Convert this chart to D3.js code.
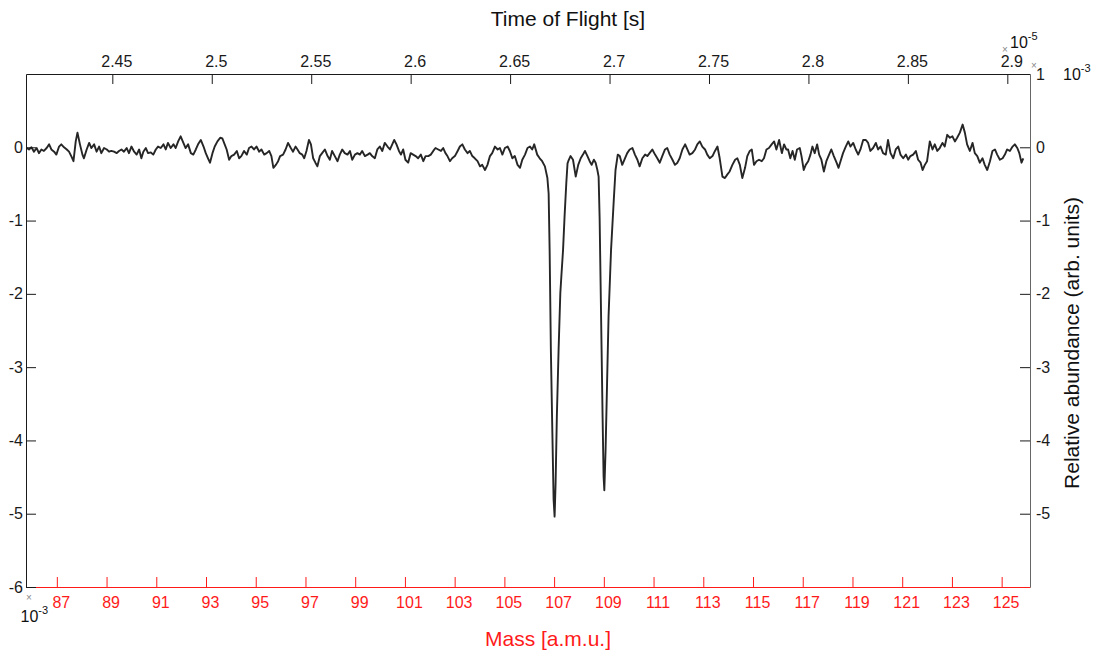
<!DOCTYPE html>
<html>
<head>
<meta charset="utf-8">
<script src="https://cdnjs.cloudflare.com/ajax/libs/d3/7.8.5/d3.min.js"></script>
<style>
  body { margin: 0; background: #fff; }
  svg text { font-family: "Liberation Sans", Arial, Helvetica, sans-serif; }
</style>
</head>
<body>
<svg></svg>
<script>
// размеры svg
const width = 1093;
const height = 652;

// масса [a.m.u.]
const mass = [
  85.79, 85.88, 85.98, 86.08, 86.19, 86.28, 86.38, 86.48, 86.59, 86.69,
  86.78, 86.89, 86.98, 87.09, 87.18, 87.29, 87.40, 87.49, 87.58, 87.67,
  87.76, 87.83, 87.93, 88.03, 88.09, 88.20, 88.30, 88.39, 88.50, 88.60,
  88.70, 88.79, 88.90, 89.01, 89.10, 89.19, 89.30, 89.41, 89.50, 89.60,
  89.70, 89.81, 89.90, 90.00, 90.11, 90.21, 90.31, 90.40, 90.48, 90.58,
  90.67, 90.78, 90.88, 90.98, 91.07, 91.18, 91.29, 91.38, 91.47, 91.58,
  91.69, 91.78, 91.88, 91.98, 92.09, 92.18, 92.28, 92.39, 92.49, 92.59,
  92.68, 92.79, 92.90, 92.99, 93.08, 93.16, 93.26, 93.35, 93.46, 93.57,
  93.66, 93.75, 93.83, 93.93, 94.02, 94.13, 94.24, 94.33, 94.42, 94.53,
  94.64, 94.73, 94.83, 94.93, 95.03, 95.14, 95.23, 95.34, 95.44, 95.54,
  95.63, 95.71, 95.81, 95.90, 95.98, 96.10, 96.20, 96.30, 96.41, 96.50,
  96.60, 96.68, 96.77, 96.87, 96.95, 97.04, 97.14, 97.22, 97.31, 97.40,
  97.48, 97.58, 97.67, 97.78, 97.89, 97.98, 98.07, 98.18, 98.29, 98.38,
  98.48, 98.58, 98.69, 98.79, 98.88, 98.99, 99.09, 99.19, 99.28, 99.39,
  99.50, 99.59, 99.68, 99.79, 99.89, 99.99, 100.09, 100.19, 100.30, 100.40,
  100.49, 100.57, 100.66, 100.76, 100.84, 100.93, 101.02, 101.13, 101.23, 101.33,
  101.43, 101.53, 101.64, 101.74, 101.83, 101.94, 102.04, 102.14, 102.23, 102.34,
  102.45, 102.54, 102.63, 102.71, 102.81, 102.90, 103.01, 103.12, 103.21, 103.31,
  103.41, 103.52, 103.61, 103.71, 103.81, 103.92, 104.02, 104.11, 104.22, 104.32,
  104.42, 104.51, 104.62, 104.73, 104.82, 104.92, 105.02, 105.13, 105.22, 105.32,
  105.42, 105.53, 105.63, 105.72, 105.83, 105.93, 106.03, 106.12, 106.20, 106.32,
  106.42, 106.52, 106.63, 106.73, 106.78, 106.82, 106.87, 106.93, 106.98, 107.02,
  107.06, 107.11, 107.18, 107.25, 107.29, 107.36, 107.42, 107.49, 107.54, 107.57,
  107.66, 107.76, 107.87, 107.97, 108.07, 108.16, 108.24, 108.34, 108.43, 108.51,
  108.60, 108.67, 108.74, 108.79, 108.83, 108.87, 108.91, 108.95, 108.99, 109.02,
  109.07, 109.13, 109.19, 109.29, 109.40, 109.47, 109.56, 109.64, 109.74, 109.85,
  109.94, 110.04, 110.15, 110.25, 110.35, 110.44, 110.55, 110.66, 110.75, 110.84,
  110.95, 111.06, 111.15, 111.25, 111.35, 111.46, 111.55, 111.65, 111.76, 111.86,
  111.96, 112.05, 112.16, 112.27, 112.36, 112.45, 112.56, 112.67, 112.76, 112.86,
  112.96, 113.07, 113.16, 113.26, 113.37, 113.47, 113.57, 113.66, 113.77, 113.87,
  113.97, 114.06, 114.17, 114.28, 114.37, 114.47, 114.57, 114.68, 114.77, 114.87,
  114.95, 115.04, 115.14, 115.24, 115.35, 115.44, 115.54, 115.64, 115.75, 115.85,
  115.94, 116.05, 116.16, 116.25, 116.34, 116.41, 116.50, 116.59, 116.68, 116.77,
  116.88, 116.95, 117.04, 117.12, 117.22, 117.31, 117.39, 117.48, 117.58, 117.66,
  117.75, 117.85, 117.95, 118.06, 118.15, 118.25, 118.36, 118.44, 118.52, 118.62,
  118.73, 118.83, 118.92, 119.03, 119.13, 119.23, 119.32, 119.43, 119.54, 119.63,
  119.72, 119.83, 119.94, 120.03, 120.13, 120.23, 120.34, 120.43, 120.53, 120.64,
  120.74, 120.84, 120.93, 121.04, 121.15, 121.24, 121.33, 121.44, 121.55, 121.64,
  121.74, 121.82, 121.91, 122.00, 122.11, 122.22, 122.31, 122.41, 122.51, 122.62,
  122.71, 122.81, 122.92, 123.02, 123.12, 123.21, 123.32, 123.43, 123.52, 123.61,
  123.72, 123.83, 123.92, 124.02, 124.12, 124.23, 124.32, 124.42, 124.53, 124.63,
  124.73, 124.82, 124.93, 125.04, 125.13, 125.22, 125.33, 125.44, 125.53, 125.63,
  125.71, 125.80, 125.87
];

// относительная распространённость, в единицах 10^-3
const abundance = [
  -0.01, -0.03, 0.00, -0.06, -0.01, -0.08, -0.03, -0.05, -0.01, 0.04,
  -0.03, -0.06, -0.10, 0.01, 0.04, 0.00, -0.03, -0.06, -0.12, -0.19,
  0.08, 0.20, 0.04, -0.10, -0.15, -0.03, 0.06, -0.01, 0.04, -0.06,
  0.01, -0.08, -0.01, -0.03, -0.06, -0.05, -0.06, -0.08, -0.05, -0.03,
  -0.06, -0.01, -0.08, 0.01, -0.06, -0.10, -0.03, -0.15, -0.06, -0.01,
  -0.08, -0.07, -0.10, -0.03, 0.01, -0.01, 0.04, -0.03, 0.06, -0.01,
  0.04, -0.01, 0.08, 0.15, 0.06, -0.01, 0.04, -0.08, -0.10, -0.03,
  0.04, 0.10, 0.01, -0.08, -0.15, -0.21, -0.08, 0.01, 0.08, 0.13,
  0.12, 0.04, -0.03, -0.17, -0.12, -0.10, -0.05, -0.15, -0.12, -0.05,
  -0.10, -0.01, 0.01, -0.03, 0.01, -0.06, -0.03, -0.10, -0.08, -0.05,
  -0.12, -0.28, -0.24, -0.19, -0.12, -0.10, -0.03, 0.06, -0.01, -0.06,
  0.01, -0.03, -0.08, -0.10, -0.15, -0.05, 0.10, 0.04, -0.15, -0.21,
  -0.26, -0.12, -0.08, -0.03, -0.12, -0.17, -0.05, -0.12, -0.19, -0.10,
  -0.03, -0.08, -0.10, -0.05, -0.17, -0.10, -0.08, -0.10, -0.05, -0.12,
  -0.10, -0.08, -0.12, -0.15, -0.03, 0.01, -0.05, 0.06, 0.01, -0.03,
  0.04, 0.10, 0.04, -0.05, -0.10, -0.03, -0.17, -0.21, -0.08, -0.10,
  -0.12, -0.15, -0.10, -0.19, -0.12, -0.12, -0.10, -0.05, -0.01, -0.03,
  -0.05, -0.01, -0.08, -0.12, -0.19, -0.15, -0.12, -0.05, 0.01, 0.04,
  -0.03, -0.08, -0.05, -0.12, -0.15, -0.19, -0.26, -0.24, -0.31, -0.24,
  -0.12, -0.08, 0.01, -0.03, -0.01, -0.10, -0.01, 0.01, -0.05, -0.15,
  -0.12, -0.24, -0.28, -0.17, -0.10, -0.01, 0.01, -0.03, 0.04, -0.10,
  -0.15, -0.19, -0.26, -0.42, -0.63, -1.40, -2.77, -3.90, -4.81, -5.04,
  -4.58, -3.68, -2.77, -1.99, -1.77, -1.40, -0.95, -0.49, -0.22, -0.19,
  -0.12, -0.17, -0.40, -0.24, -0.15, -0.10, -0.05, -0.12, -0.19, -0.24,
  -0.17, -0.21, -0.31, -0.40, -0.95, -1.86, -2.77, -3.68, -4.49, -4.68,
  -4.13, -3.22, -2.31, -1.40, -0.72, -0.31, -0.10, -0.12, -0.24, -0.15,
  -0.08, -0.03, -0.01, -0.10, -0.17, -0.26, -0.15, -0.10, -0.12, -0.08,
  -0.03, -0.10, -0.15, -0.21, -0.12, -0.03, -0.01, -0.10, -0.17, -0.24,
  -0.21, -0.15, -0.03, 0.04, -0.03, -0.10, -0.08, -0.03, 0.04, 0.08,
  0.01, -0.03, -0.10, -0.15, -0.12, -0.05, 0.01, -0.15, -0.40, -0.42,
  -0.37, -0.33, -0.24, -0.17, -0.15, -0.24, -0.42, -0.28, -0.12, -0.05,
  -0.03, -0.24, -0.19, -0.17, -0.19, -0.15, -0.03, -0.01, 0.04, 0.08,
  -0.03, 0.10, -0.08, 0.04, -0.03, -0.03, -0.15, -0.05, -0.17, -0.03,
  -0.01, -0.12, -0.31, -0.24, -0.19, -0.10, 0.01, -0.08, 0.04, -0.10,
  -0.17, -0.33, -0.19, -0.10, -0.03, -0.12, -0.21, -0.28, -0.19, -0.08,
  0.01, 0.08, 0.01, 0.06, -0.03, -0.10, -0.03, 0.10, 0.10, 0.06,
  -0.05, -0.01, 0.06, -0.03, 0.01, -0.08, -0.10, 0.10, -0.08, -0.15,
  -0.03, 0.01, -0.10, -0.15, -0.10, -0.17, -0.12, -0.10, -0.05, -0.17,
  -0.21, -0.31, -0.24, -0.19, 0.08, -0.03, 0.04, -0.05, -0.01, 0.06,
  0.01, 0.17, 0.13, 0.15, 0.08, 0.13, 0.20, 0.31, 0.20, 0.04,
  -0.05, 0.06, -0.08, -0.12, -0.21, -0.15, -0.24, -0.31, -0.19, -0.05,
  -0.03, -0.10, -0.17, -0.15, -0.10, -0.03, -0.05, 0.01, 0.04, -0.01,
  -0.08, -0.21, -0.15
];

// подписи делений
const massTicks = [87, 89, 91, 93, 95, 97, 99, 101, 103, 105, 107, 109, 111, 113, 115, 117, 119, 121, 123, 125];
const tofTicks = [2.45, 2.5, 2.55, 2.6, 2.65, 2.7, 2.75, 2.8, 2.85, 2.9];
const leftTicks = [0, -1, -2, -3, -4, -5, -6];
const rightTicks = [1, 0, -1, -2, -3, -4, -5];

// пределы осей
const massRange = [85.76, 126.14];
const tofRange = [2.4066, 2.9114];   // x10^-5 s
const abundanceRange = [-6, 1];       // x10^-3

// границы области графика
const plotLeft = 26, plotRight = 1030, plotTop = 74, plotBottom = 587;

let svg = d3.select("svg")
    .attr("width", width)
    .attr("height", height);

let x = d3.scaleLinear().domain(massRange).range([plotLeft, plotRight]);
let xTop = d3.scaleLinear().domain(tofRange).range([plotLeft, plotRight]);
let y = d3.scaleLinear().domain(abundanceRange).range([plotBottom, plotTop]);

let points = mass.map((m, i) => ({ m: m, v: abundance[i] }));

// кривая спектра
const line = d3.line()
    .x(d => x(d.m))
    .y(d => y(d.v));

svg.append("path")
    .attr("d", line(points))
    .attr("fill", "none")
    .attr("stroke", "#262626")
    .attr("stroke-width", 1.9)
    .attr("stroke-linejoin", "round");

// оформление оси
function styleAxis(g, color, size) {
    g.attr("font-size", size).attr("font-family", null);
    g.select(".domain").attr("stroke", color);
    g.selectAll(".tick line").attr("stroke", color);
    g.selectAll(".tick text").attr("fill", color);
}

// нижняя ось: масса
svg.append("g")
    .attr("transform", `translate(0, ${plotBottom})`)
    .call(d3.axisBottom(x).tickValues(massTicks).tickFormat(d => String(d))
        .tickSizeInner(-10).tickSizeOuter(0).tickPadding(10))
    .call(g => styleAxis(g, "#ff1a1a", 16))
    .call(g => g.selectAll(".tick text").attr("dx", 4));

// верхняя ось: время пролёта
svg.append("g")
    .attr("transform", `translate(0, ${plotTop})`)
    .call(d3.axisTop(xTop).tickValues(tofTicks).tickFormat(d => String(d))
        .tickSizeInner(-10).tickSizeOuter(0).tickPadding(7))
    .call(g => styleAxis(g, "#1a1a1a", 16))
    .call(g => g.selectAll(".tick text").attr("dx", 4));

// левая ось
svg.append("g")
    .attr("transform", `translate(${plotLeft}, 0)`)
    .call(d3.axisLeft(y).tickValues(leftTicks).tickFormat(d => String(d))
        .tickSizeInner(-10).tickSizeOuter(0).tickPadding(3))
    .call(g => styleAxis(g, "#1a1a1a", 16));

// правая ось
svg.append("g")
    .attr("transform", `translate(${plotRight}, 0)`)
    .call(d3.axisRight(y).tickValues(rightTicks).tickFormat(d => String(d))
        .tickSizeInner(-10).tickSizeOuter(0).tickPadding(6))
    .call(g => styleAxis(g, "#1a1a1a", 16))
    .call(g => g.select(".domain").attr("stroke", "#666"));

// названия осей
svg.append("text")
    .attr("x", 568).attr("y", 25.5)
    .attr("text-anchor", "middle")
    .attr("font-size", 21)
    .attr("fill", "#111")
    .text("Time of Flight [s]");

svg.append("text")
    .attr("x", 548).attr("y", 646)
    .attr("text-anchor", "middle")
    .attr("font-size", 21)
    .attr("fill", "#ff1a1a")
    .text("Mass [a.m.u.]");

svg.append("text")
    .attr("transform", "translate(1079, 343) rotate(-90)")
    .attr("text-anchor", "middle")
    .attr("font-size", 21)
    .attr("fill", "#111")
    .text("Relative abundance (arb. units)");

// множители осей
function drawExponent(cx, cy, tx, ty, power) {
    svg.append("text")
        .attr("x", cx).attr("y", cy)
        .attr("text-anchor", "middle")
        .attr("font-size", 10)
        .attr("fill", "#888")
        .text("\u00d7");
    let t = svg.append("text")
        .attr("x", tx).attr("y", ty)
        .attr("font-size", 16)
        .attr("fill", "#111");
    t.append("tspan").text("10");
    t.append("tspan").attr("dy", -8).attr("font-size", 11).text(power);
}

drawExponent(1005, 53, 1010, 48, "-5");
drawExponent(1034, 69, 1063, 80, "-3");
drawExponent(29, 601, 20.5, 621.5, "-3");
</script>
</body>
</html>
